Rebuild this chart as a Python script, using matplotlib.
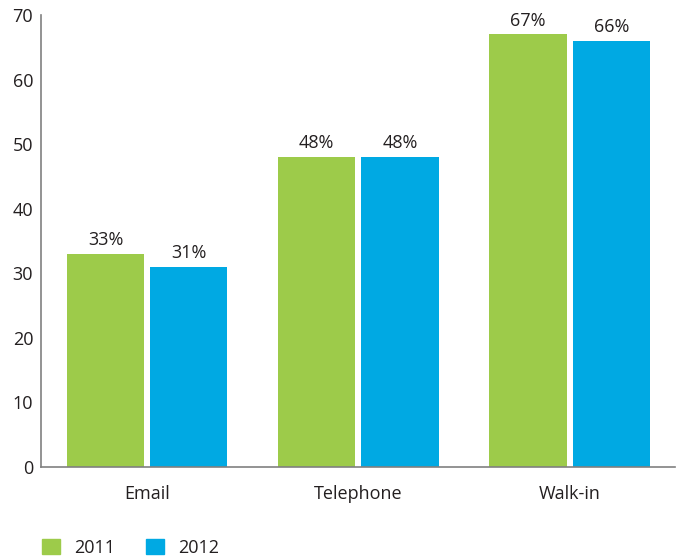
import matplotlib
matplotlib.use("Agg")
import matplotlib.pyplot as plt
import numpy as np
from matplotlib.patches import Patch

categories = ["Email", "Telephone", "Walk-in"]
years = ["2011", "2012"]
values_2011 = [33, 48, 67]
values_2012 = [31, 48, 66]
yticks = [0, 10, 20, 30, 40, 50, 60, 70]

green = "#9dcb4a"
blue = "#00a9e3"
text_color = "#231f20"
spine_color = "#808080"
fs = 13

plt.rcParams["font.family"] = ["Open Sans", "DejaVu Sans"]

fig = plt.figure(figsize=(6.8, 5.6), dpi=100)
ax = fig.add_axes([0.061, 0.166, 0.932, 0.807])

x = np.arange(len(categories))
width = 0.365
offset = 0.197

bars1 = ax.bar(x - offset, values_2011, width, color=green, zorder=2)
bars2 = ax.bar(x + offset, values_2012, width, color=blue, zorder=2)

for bars, vals in ((bars1, values_2011), (bars2, values_2012)):
    for b, v in zip(bars, vals):
        ax.annotate(f"{v}%", (b.get_x() + b.get_width() / 2, v),
                    xytext=(0, 3.5), textcoords="offset points",
                    ha="center", va="bottom", fontsize=fs, color=text_color)

ax.set_xlim(-0.5, 2.5)
ax.set_ylim(0, 70)
ax.set_yticks(yticks)
ax.set_xticks(x)
ax.set_xticklabels(categories)
ax.tick_params(axis="both", length=0, labelsize=fs, colors=text_color)
ax.tick_params(axis="x", pad=13)
ax.tick_params(axis="y", pad=6)

for side in ("top", "right"):
    ax.spines[side].set_visible(False)
for side in ("left", "bottom"):
    ax.spines[side].set_color(spine_color)
    ax.spines[side].set_linewidth(1.2)
    ax.spines[side].set_zorder(3)

handles = [Patch(color=green, label=years[0]), Patch(color=blue, label=years[1])]
fig.legend(handles=handles, loc="lower left", bbox_to_anchor=(0.038, -0.023),
           ncol=2, frameon=False, fontsize=fs, handlelength=1.0,
           handleheight=0.95, handletextpad=0.75, columnspacing=1.75,
           labelcolor=text_color)

fig.savefig("out.png", dpi=100)
